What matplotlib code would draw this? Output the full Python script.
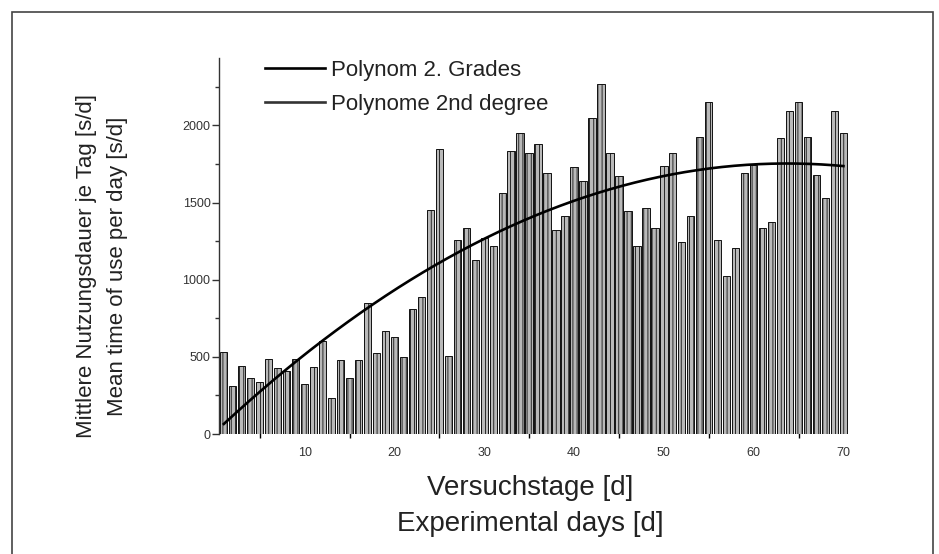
import numpy as np
import matplotlib
matplotlib.use('Agg')
import matplotlib.pyplot as plt
from matplotlib.patches import Rectangle
from matplotlib.ticker import MultipleLocator, FixedLocator

plt.rcParams['font.family'] = ['Liberation Sans', 'DejaVu Sans']
plt.rcParams['hatch.color'] = '#707070'
plt.rcParams['hatch.linewidth'] = 0.6

days = np.arange(1, 71)
usage = [529, 313, 443, 363, 339, 486, 426, 410, 486, 324,
         436, 605, 233, 482, 363, 482, 847, 525, 665, 631,
         497, 810, 890, 1454, 1847, 508, 1257, 1335, 1128, 1270,
         1216, 1562, 1836, 1948, 1821, 1879, 1689, 1322, 1415, 1728,
         1637, 2048, 2268, 1821, 1674, 1447, 1216, 1462, 1333, 1739,
         1821, 1242, 1410, 1927, 2149, 1257, 1026, 1205, 1691, 1743,
         1333, 1376, 1916, 2095, 2149, 1927, 1678, 1527, 2095, 1948]

# points
curve_x = [1, 10, 20, 25, 30, 40, 50, 55, 60, 65, 70]
curve_y = [65, 515, 935, 1108, 1264, 1506, 1674, 1722, 1750, 1754, 1732]

fig = plt.figure(figsize=(9.39, 5.54), dpi=100)
ax = fig.add_axes([0.233, 0.2166, 0.670, 0.678])

ax.bar(days, usage, width=0.82, color='#b9b9b9', edgecolor='#111111',
       linewidth=0.7, hatch='||||', zorder=2)

coef = np.polyfit(curve_x, curve_y, 2)
xs = np.linspace(1, 70, 200)
ax.plot(xs, np.polyval(coef, xs), color='black', lw=1.9, zorder=3,
        label='Polynom 2. Grades')
ax.plot([], [], color='#333333', lw=1.9, label='Polynome 2nd degree')

ax.set_xlim(0.44, 70.5)
ax.set_ylim(0, 2434)

for s in ['top', 'right', 'bottom']:
  ax.spines[s].set_visible(False)
ax.spines['left'].set_linewidth(1.0)
ax.spines['left'].set_color('#333333')

ax.yaxis.set_major_locator(MultipleLocator(500))
ax.yaxis.set_minor_locator(MultipleLocator(250))
ax.tick_params(axis='y', which='major', direction='out', length=5, width=1,
               pad=1, labelsize=9, labelcolor='#333333', color='#333333')
ax.tick_params(axis='y', which='minor', direction='out', length=3, width=1,
               color='#333333')

ax.xaxis.set_major_locator(FixedLocator([10, 20, 30, 40, 50, 60, 70]))
ax.xaxis.set_minor_locator(FixedLocator([5, 15, 25, 35, 45, 55, 65]))
ax.tick_params(axis='x', which='major', length=0, pad=9,
               labelsize=9, labelcolor='#333333')
ax.tick_params(axis='x', which='minor', direction='inout', length=6, width=1,
               color='black')

leg = ax.legend(loc='upper left', bbox_to_anchor=(0.06, 1.02), frameon=False,
                fontsize=16, handlelength=2.7, handletextpad=0.25,
                labelspacing=0.6, borderaxespad=0)
for t in leg.get_texts():
  t.set_color('#222222')

fig.text(0.092, 0.52, 'Mittlere Nutzungsdauer je Tag [s/d]', rotation=90,
         ha='center', va='center', fontsize=16, color='#222222')
fig.text(0.125, 0.52, 'Mean time of use per day [s/d]', rotation=90,
         ha='center', va='center', fontsize=16, color='#222222')
fig.text(0.565, 0.119, 'Versuchstage [d]', ha='center', va='center',
         fontsize=20, color='#222222')
fig.text(0.565, 0.055, 'Experimental days [d]', ha='center', va='center',
         fontsize=20, color='#222222')

fig.patches.append(Rectangle((12 / 939, -0.02), (933 - 12) / 939, 1.02 - 12 / 554,
                             transform=fig.transFigure, fill=False,
                             edgecolor='#444444', lw=1.2))

plt.savefig('out.png', dpi=100)
